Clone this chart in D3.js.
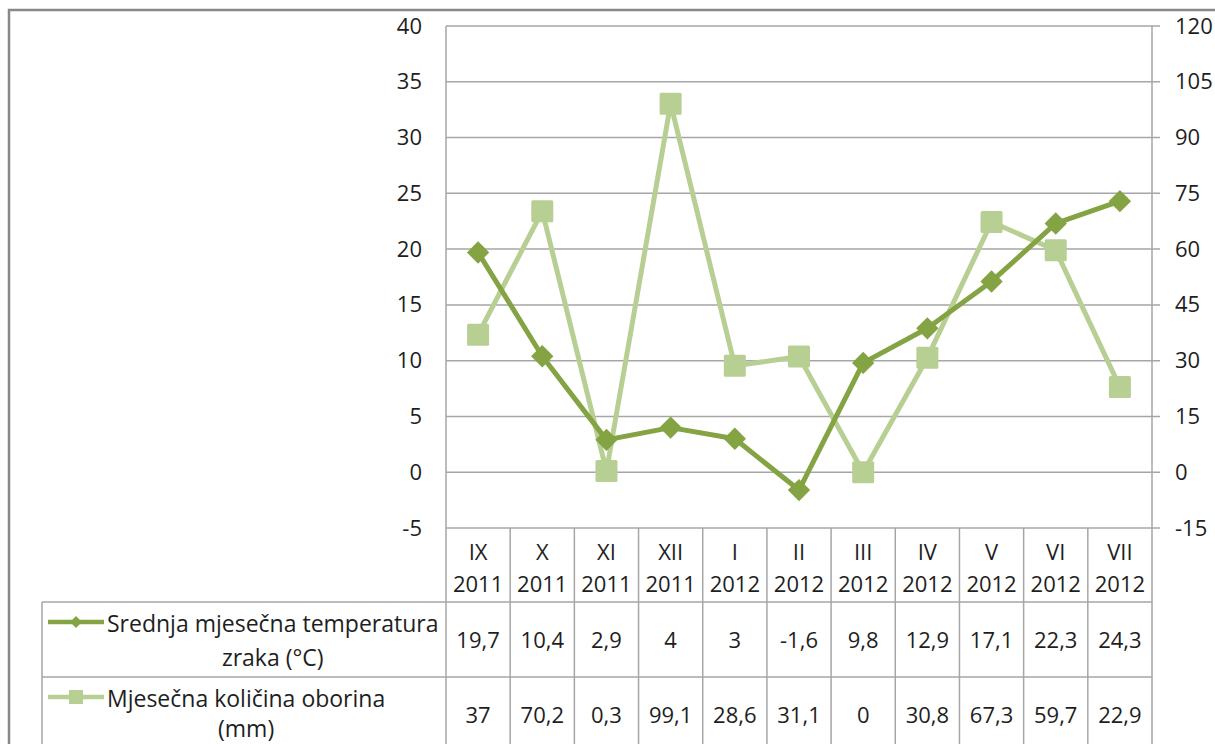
<!DOCTYPE html>
<html><head><meta charset="utf-8">
<script src="https://cdn.jsdelivr.net/npm/d3@7"></script>
<style>body{margin:0;background:#fff}svg{display:block}text{font-family:"Open Sans",sans-serif;fill:#1e1e1e}</style>
</head><body><svg id="c" width="1215" height="744"></svg>
<script>
const months = ["IX","X","XI","XII","I","II","III","IV","V","VI","VII"];
const years = ["2011","2011","2011","2011","2012","2012","2012","2012","2012","2012","2012"];
const temperature = [19.7,10.4,2.9,4,3,-1.6,9.8,12.9,17.1,22.3,24.3];
const precipitation = [37,70.2,0.3,99.1,28.6,31.1,0,30.8,67.3,59.7,22.9];
const leftTicks = [-5,0,5,10,15,20,25,30,35,40];
const rightTicks = [-15,0,15,30,45,60,75,90,105,120];
const seriesNames = [["Srednja mjesečna temperatura","zraka (°C)"],["Mjesečna količina oborina","(mm)"]];

const tempColor = "#84a343", precColor = "#b8cf94", gridColor = "#a6a6a6";
const FS = "22px";
const svg = d3.select("#c");
const L = 446, R = 1152, T = 26, B = 528;
const x = d3.scaleBand().domain(d3.range(months.length)).range([L, R]);
const yL = d3.scaleLinear().domain([-5, 40]).range([B, T]);
const yR = d3.scaleLinear().domain([-15, 120]).range([B, T]);
const fmt = v => String(v).replace(".", ",");

// outer frame
svg.append("path").attr("d","M9,744V10H1215").attr("fill","none").attr("stroke","#888").attr("stroke-width",2.5);

// gridlines
svg.append("g").selectAll("line").data(leftTicks).join("line")
  .attr("x1", L).attr("x2", R + 8).attr("y1", d => yL(d)).attr("y2", d => yL(d))
  .attr("stroke", gridColor).attr("stroke-width", 1.5);

// left axis labels
const gl = svg.append("g").attr("transform", `translate(${L},0)`)
  .call(d3.axisLeft(yL).tickValues(leftTicks).tickFormat(d => String(d)).tickSize(0).tickPadding(24));
gl.select(".domain").remove();
gl.selectAll("text").style("font-size",FS).style("font-family","Open Sans").attr("fill","#1e1e1e");
// right axis labels
const gr = svg.append("g").attr("transform", `translate(${R},0)`)
  .call(d3.axisRight(yR).tickValues(rightTicks).tickFormat(d => String(d)).tickSize(0).tickPadding(23));
gr.select(".domain").remove();
gr.selectAll("text").style("font-size",FS).style("font-family","Open Sans").attr("fill","#1e1e1e");

// vertical lines
svg.append("line").attr("x1",L).attr("x2",L).attr("y1",T).attr("y2",744).attr("stroke",gridColor).attr("stroke-width",1.5);
svg.append("line").attr("x1",R).attr("x2",R).attr("y1",T).attr("y2",744).attr("stroke",gridColor).attr("stroke-width",1.5);
svg.append("g").selectAll("line").data(d3.range(1, months.length)).join("line")
  .attr("x1", d => x(d)).attr("x2", d => x(d)).attr("y1", B).attr("y2", 744)
  .attr("stroke", gridColor).attr("stroke-width", 1.5);
// table rows
const rowTop = [602, 677];
rowTop.forEach(y => svg.append("line").attr("x1",42).attr("x2",R).attr("y1",y).attr("y2",y).attr("stroke",gridColor).attr("stroke-width",1.5));
svg.append("line").attr("x1",42).attr("x2",42).attr("y1",602).attr("y2",744).attr("stroke",gridColor).attr("stroke-width",1.5);

// category labels
const cat = svg.append("g").selectAll("g").data(months).join("g");
cat.append("text").attr("x",(d,i)=>x(i)+x.bandwidth()/2).attr("y",560).attr("text-anchor","middle").style("font-size",FS).text(d=>d);
cat.append("text").attr("x",(d,i)=>x(i)+x.bandwidth()/2).attr("y",592).attr("text-anchor","middle").style("font-size",FS).text((d,i)=>years[i]);

// table values
[temperature, precipitation].forEach((arr, r) => {
  svg.append("g").selectAll("text").data(arr).join("text")
    .attr("x",(d,i)=>x(i)+x.bandwidth()/2).attr("y", r===0 ? 648 : 723)
    .attr("text-anchor","middle").style("font-size",FS).text(d=>fmt(d));
});

// lines
const cx = i => x(i) + x.bandwidth()/2;
svg.append("path").datum(precipitation)
  .attr("d", d3.line().x((d,i)=>cx(i)).y(d=>yR(d)))
  .attr("fill","none").attr("stroke",precColor).attr("stroke-width",5).attr("stroke-linejoin","round");
svg.append("g").selectAll("rect").data(precipitation).join("rect")
  .attr("x",(d,i)=>cx(i)-11).attr("y",d=>yR(d)-11).attr("width",22).attr("height",22).attr("rx",1.5)
  .attr("fill",precColor);
svg.append("path").datum(temperature)
  .attr("d", d3.line().x((d,i)=>cx(i)).y(d=>yL(d)))
  .attr("fill","none").attr("stroke",tempColor).attr("stroke-width",5).attr("stroke-linejoin","round");
svg.append("g").selectAll("path").data(temperature).join("path")
  .attr("d", d3.symbol().type(d3.symbolSquare).size(250))
  .attr("transform",(d,i)=>`translate(${cx(i)},${yL(d)}) rotate(45)`)
  .attr("fill",tempColor);

// legend cells
const legY = [[622,632,666],[697,707,737]];
seriesNames.forEach((lines, r) => {
  const color = r===0 ? tempColor : precColor;
  const g = svg.append("g");
  const t1 = g.append("text").attr("x",107).attr("y",legY[r][1]).style("font-size","23px").text(lines[0]);
  const w = t1.node().getComputedTextLength();
  g.append("text").attr("x",107 + w/2).attr("y",legY[r][2]).attr("text-anchor","middle").style("font-size","23px").text(lines[1]);
  g.append("line").attr("x1",48).attr("x2",104).attr("y1",legY[r][0]).attr("y2",legY[r][0]).attr("stroke",color).attr("stroke-width",4.5);
  if (r===0) {
    g.append("path").attr("d", d3.symbol().type(d3.symbolSquare).size(70)).attr("transform",`translate(76,${legY[r][0]}) rotate(45)`).attr("fill",color);
  } else {
    g.append("rect").attr("x",69).attr("y",legY[r][0]-7).attr("width",14).attr("height",14).attr("fill",color);
  }
});
</script></body></html>
